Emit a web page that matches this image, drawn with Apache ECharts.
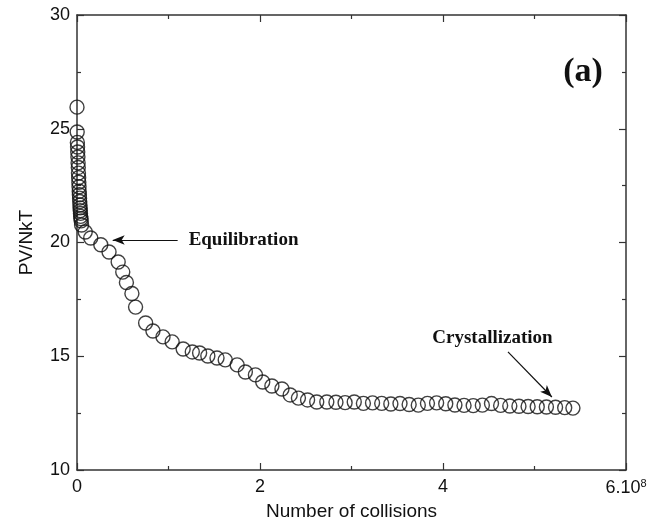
<!DOCTYPE html>
<html>
<head>
<meta charset="utf-8">
<script src="https://cdn.jsdelivr.net/npm/echarts@6/dist/echarts.min.js"></script>
<style>
  html, body { margin: 0; padding: 0; background: #fff; }
  #chart { width: 660px; height: 527px; }
</style>
</head>
<body>
<div id="chart"></div>
<script>
// Number of collisions, in units of 10^8
const collisions = [
  0.000, 0.002, 0.004, 0.006, 0.008, 0.010, 0.012, 0.014, 0.016, 0.018,
  0.020, 0.022, 0.024, 0.026, 0.028, 0.030, 0.032, 0.034, 0.036, 0.038,
  0.040, 0.043, 0.046, 0.050, 0.090, 0.150, 0.260, 0.350, 0.450, 0.500,
  0.540, 0.600, 0.640, 0.750, 0.830, 0.940, 1.040, 1.160, 1.260, 1.340,
  1.430, 1.530, 1.620, 1.750, 1.840, 1.950, 2.030, 2.130, 2.240, 2.330,
  2.420, 2.520, 2.620, 2.730, 2.830, 2.930, 3.030, 3.130, 3.230, 3.330,
  3.430, 3.530, 3.630, 3.730, 3.830, 3.930, 4.030, 4.130, 4.230, 4.330,
  4.430, 4.530, 4.630, 4.730, 4.830, 4.930, 5.030, 5.130, 5.230, 5.330,
  5.420
];
// Reduced pressure PV/NkT
const pressure = [
  25.95, 24.86, 24.40, 24.20, 23.98, 23.76, 23.50, 23.30, 23.05, 22.85,
  22.65, 22.45, 22.25, 22.10, 21.95, 21.80, 21.65, 21.52, 21.40, 21.28,
  21.15, 21.05, 20.95, 20.77, 20.46, 20.20, 19.90, 19.58, 19.14, 18.70,
  18.24, 17.76, 17.16, 16.46, 16.11, 15.85, 15.63, 15.32, 15.19, 15.14,
  15.01, 14.92, 14.84, 14.62, 14.31, 14.18, 13.87, 13.69, 13.56, 13.30,
  13.16, 13.08, 12.99, 12.99, 12.98, 12.96, 12.99, 12.93, 12.95, 12.93,
  12.90, 12.92, 12.88, 12.85, 12.93, 12.95, 12.91, 12.86, 12.84, 12.83,
  12.85, 12.92, 12.84, 12.81, 12.80, 12.79, 12.78, 12.77, 12.76, 12.74,
  12.72
];
const xTickLabels = ['0', '2', '4', '6.10{sup|8}'];
const yTickLabels = ['10', '15', '20', '25', '30'];

const axisColor = '#333';
const textColor = '#111';
const sansFont = '"Liberation Sans", Arial, sans-serif';
const serifFont = '"Liberation Serif", "Times New Roman", serif';

const points = collisions.map((x, i) => [x, pressure[i]]);

const chart = echarts.init(document.getElementById('chart'), null, { renderer: 'canvas' });

const baseTick = { show: true, inside: true, length: 7, lineStyle: { color: axisColor, width: 1.2 } };
const baseMinor = { show: true, splitNumber: 2, length: 4, lineStyle: { color: axisColor, width: 1.2 } };
const baseLine = { show: true, onZero: false, lineStyle: { color: axisColor, width: 1.5 } };

chart.setOption({
  animation: false,
  backgroundColor: '#fff',
  grid: { left: 77, right: 34, top: 15, bottom: 57, containLabel: false },
  xAxis: [
    {
      type: 'value', min: 0, max: 6, interval: 2,
      axisLine: baseLine, axisTick: baseTick, minorTick: baseMinor,
      splitLine: { show: false },
      axisLabel: {
        color: textColor, fontFamily: sansFont, fontSize: 18, margin: 8,
        formatter: v => xTickLabels[Math.round(v / 2)] || '',
        rich: { sup: { fontSize: 11, verticalAlign: 'top', padding: [0, 0, 10, 0], fontFamily: sansFont, color: textColor } }
      },
      name: 'Number of collisions', nameLocation: 'middle', nameGap: 32,
      nameTextStyle: { color: textColor, fontFamily: sansFont, fontSize: 19 }
    },
    {
      type: 'value', min: 0, max: 6, interval: 2, position: 'top',
      axisLine: baseLine, axisTick: baseTick, minorTick: baseMinor,
      splitLine: { show: false }, axisLabel: { show: false }
    }
  ],
  yAxis: [
    {
      type: 'value', min: 10, max: 30, interval: 5,
      axisLine: baseLine, axisTick: baseTick, minorTick: baseMinor,
      splitLine: { show: false },
      axisLabel: {
        color: textColor, fontFamily: sansFont, fontSize: 18, margin: 7,
        formatter: v => yTickLabels[Math.round((v - 10) / 5)] || ''
      },
      name: 'PV/NkT', nameLocation: 'middle', nameGap: 41,
      nameTextStyle: { color: textColor, fontFamily: sansFont, fontSize: 19 }
    },
    {
      type: 'value', min: 10, max: 30, interval: 5, position: 'right',
      axisLine: baseLine, axisTick: baseTick, minorTick: baseMinor,
      splitLine: { show: false }, axisLabel: { show: false }
    }
  ],
  series: [
    {
      type: 'scatter',
      xAxisIndex: 0, yAxisIndex: 0,
      data: points,
      symbol: 'circle',
      symbolSize: 14,
      itemStyle: { color: 'rgba(255,255,255,0)', borderColor: '#111', borderWidth: 1.4 },
      markLine: {
        silent: true,
        symbol: ['none', 'arrow'],
        symbolSize: [7, 12],
        label: { show: false },
        lineStyle: { color: '#111', width: 1.2, type: 'solid' },
        data: [
          [{ coord: [1.10, 20.11] }, { coord: [0.39, 20.11] }],
          [{ coord: [4.71, 15.19] }, { coord: [5.19, 13.21] }]
        ]
      }
    }
  ]
});

// Text annotations placed in data coordinates
function place(x, y) { return chart.convertToPixel({ gridIndex: 0 }, [x, y]); }
const pEq = place(1.22, 20.11);
const pCr = place(4.54, 15.80);
const pA = place(5.53, 27.50);
chart.setOption({
  graphic: [
    { type: 'text', x: pEq[0], y: pEq[1], style: { text: 'Equilibration', fill: '#111', font: 'bold 19px ' + serifFont, textAlign: 'left', textVerticalAlign: 'middle' } },
    { type: 'text', x: pCr[0], y: pCr[1], style: { text: 'Crystallization', fill: '#111', font: 'bold 19px ' + serifFont, textAlign: 'center', textVerticalAlign: 'middle' } },
    { type: 'text', x: pA[0], y: pA[1], style: { text: '(a)', fill: '#111', font: 'bold 34px ' + serifFont, textAlign: 'center', textVerticalAlign: 'middle' } }
  ]
});
</script>
</body>
</html>
